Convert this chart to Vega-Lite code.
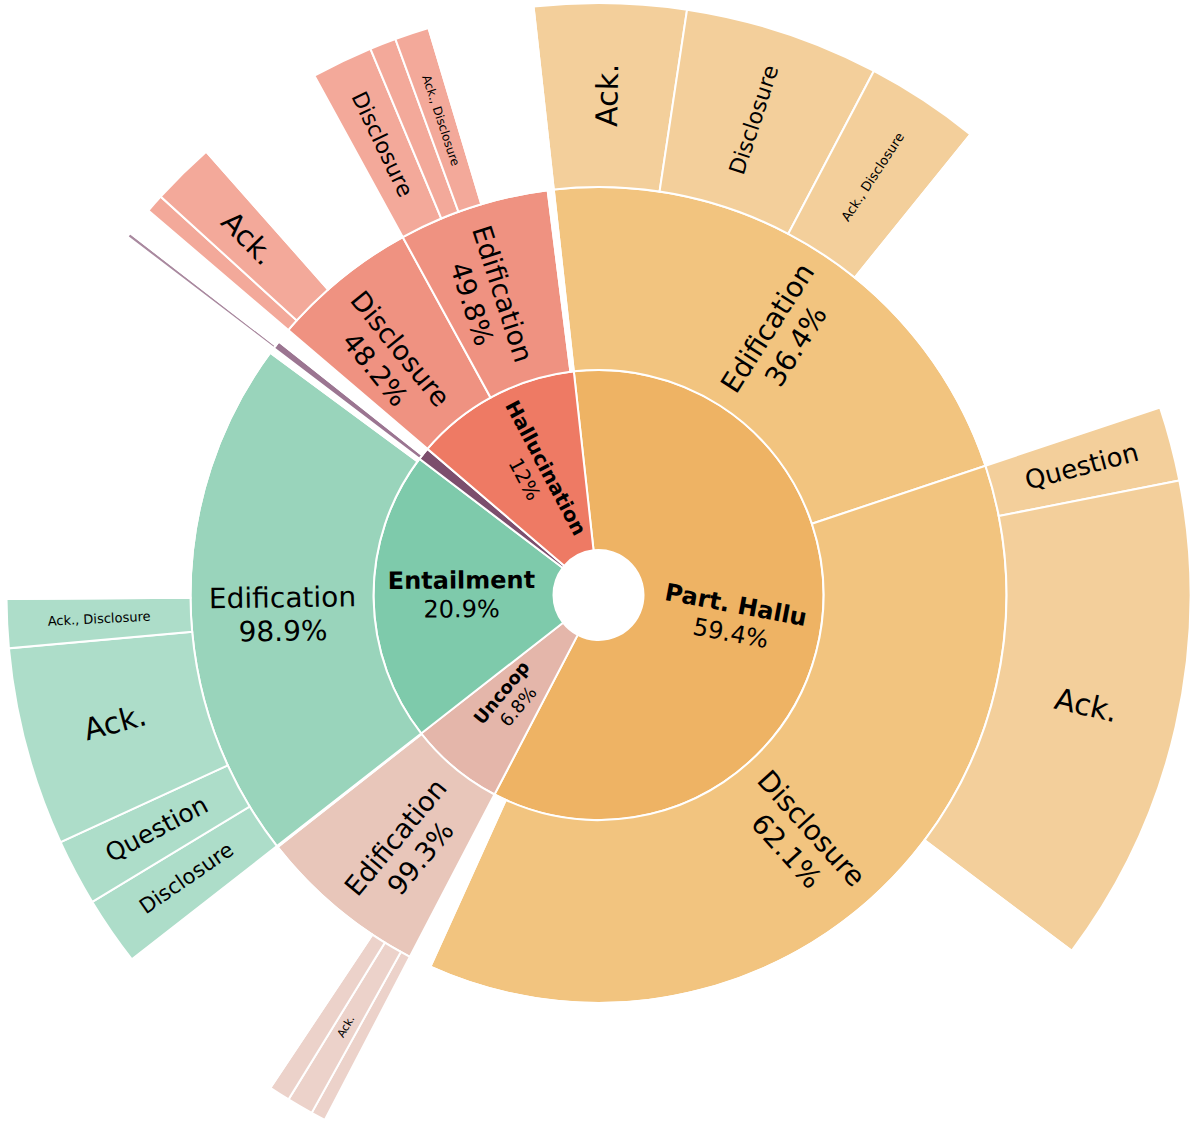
{
  "$schema": "https://vega.github.io/schema/vega-lite/v6.json",
  "width": 1197,
  "height": 1066,
  "padding": {"left": 0, "right": 0, "top": 62, "bottom": 0},
  "autosize": {"type": "none"},
  "background": "white",
  "config": {"view": {"stroke": null}},
  "data": {"values": [
    {"level": 1, "root": "Part. Hallu", "parent": "", "label": "Part. Hallu", "v": 59.4},
    {"level": 1, "root": "Uncoop", "parent": "", "label": "Uncoop", "v": 6.8},
    {"level": 1, "root": "Entailment", "parent": "", "label": "Entailment", "v": 20.9},
    {"level": 1, "root": "Other", "parent": "", "label": "", "v": 0.9},
    {"level": 1, "root": "Hallucination", "parent": "", "label": "Hallucination", "v": 12.0},

    {"level": 2, "root": "Part. Hallu", "parent": "Part. Hallu", "label": "Edification", "v": 21.62, "share": 0.364},
    {"level": 2, "root": "Part. Hallu", "parent": "Part. Hallu", "label": "Disclosure", "v": 36.89, "share": 0.621},
    {"level": 2, "root": "gap", "parent": "Part. Hallu", "label": "", "v": 0.89},
    {"level": 2, "root": "Uncoop", "parent": "Uncoop", "label": "Edification", "v": 6.752, "share": 0.993},
    {"level": 2, "root": "gap", "parent": "Uncoop", "label": "", "v": 0.048},
    {"level": 2, "root": "Entailment", "parent": "Entailment", "label": "Edification", "v": 20.67, "share": 0.989},
    {"level": 2, "root": "gap", "parent": "Entailment", "label": "", "v": 0.23},
    {"level": 2, "root": "Other", "parent": "Other", "label": "", "v": 0.32},
    {"level": 2, "root": "gap", "parent": "Other", "label": "", "v": 0.58},
    {"level": 2, "root": "Hallucination", "parent": "Hallucination", "label": "Disclosure", "v": 5.784, "share": 0.482},
    {"level": 2, "root": "Hallucination", "parent": "Hallucination", "label": "Edification", "v": 5.976, "share": 0.498},
    {"level": 2, "root": "gap", "parent": "Hallucination", "label": "", "v": 0.24},

    {"level": 3, "root": "Part. Hallu", "parent": "Edification", "label": "Ack.", "v": 4.14},
    {"level": 3, "root": "Part. Hallu", "parent": "Edification", "label": "Disclosure", "v": 5.31},
    {"level": 3, "root": "Part. Hallu", "parent": "Edification", "label": "Ack., Disclosure", "v": 3.11},
    {"level": 3, "root": "gap", "parent": "Edification", "label": "", "v": 9.06},
    {"level": 3, "root": "Part. Hallu", "parent": "Disclosure", "label": "Question", "v": 2.03},
    {"level": 3, "root": "Part. Hallu", "parent": "Disclosure", "label": "Ack.", "v": 13.36},
    {"level": 3, "root": "gap", "parent": "Disclosure", "label": "", "v": 21.5},
    {"level": 3, "root": "gap", "parent": "", "label": "", "v": 0.89},
    {"level": 3, "root": "Uncoop", "parent": "Edification", "label": "", "v": 0.4},
    {"level": 3, "root": "Uncoop", "parent": "Edification", "label": "Ack.", "v": 0.72},
    {"level": 3, "root": "Uncoop", "parent": "Edification", "label": "", "v": 0.58},
    {"level": 3, "root": "gap", "parent": "Edification", "label": "", "v": 5.052},
    {"level": 3, "root": "gap", "parent": "", "label": "", "v": 0.048},
    {"level": 3, "root": "Entailment", "parent": "Edification", "label": "Disclosure", "v": 1.875},
    {"level": 3, "root": "Entailment", "parent": "Edification", "label": "Question", "v": 1.82},
    {"level": 3, "root": "Entailment", "parent": "Edification", "label": "Ack.", "v": 5.42},
    {"level": 3, "root": "Entailment", "parent": "Edification", "label": "Ack., Disclosure", "v": 1.33},
    {"level": 3, "root": "gap", "parent": "Edification", "label": "", "v": 10.225},
    {"level": 3, "root": "gap", "parent": "", "label": "", "v": 0.23},
    {"level": 3, "root": "Other", "parent": "", "label": "", "v": 0.12},
    {"level": 3, "root": "gap", "parent": "", "label": "", "v": 0.2},
    {"level": 3, "root": "gap", "parent": "", "label": "", "v": 0.58},
    {"level": 3, "root": "Hallucination", "parent": "Disclosure", "label": "", "v": 0.5},
    {"level": 3, "root": "Hallucination", "parent": "Disclosure", "label": "Ack.", "v": 1.72},
    {"level": 3, "root": "gap", "parent": "Disclosure", "label": "", "v": 3.564},
    {"level": 3, "root": "Hallucination", "parent": "Edification", "label": "Disclosure", "v": 1.67},
    {"level": 3, "root": "Hallucination", "parent": "Edification", "label": "", "v": 0.72},
    {"level": 3, "root": "Hallucination", "parent": "Edification", "label": "Ack., Disclosure", "v": 0.94},
    {"level": 3, "root": "gap", "parent": "Edification", "label": "", "v": 2.646},
    {"level": 3, "root": "gap", "parent": "", "label": "", "v": 0.24}
  ]},
  "transform": [{"window": [{"op": "row_number", "as": "rn"}]}],
  "layer": [
    {
      "transform": [{"filter": "datum.level == 1"}],
      "mark": {"type": "arc", "radius": 225, "radius2": 45, "stroke": "white", "strokeWidth": 2},
      "encoding": {
        "theta": {"field": "v", "type": "quantitative", "stack": true, "scale": {"domain": [0, 100], "range": [-0.10996, 6.17323]}},
        "order": {"field": "rn", "type": "quantitative"},
        "color": {"field": "root", "type": "nominal", "legend": null,
          "scale": {"domain": ["Part. Hallu", "Uncoop", "Entailment", "Other", "Hallucination", "gap"],
                    "range": ["#EEB364", "#E4B6AA", "#7ECAAB", "#7C4E6D", "#EE7A64", "rgba(0,0,0,0)"]}}
      }
    },
    {
      "transform": [{"filter": "datum.level == 2"}],
      "mark": {"type": "arc", "radius": 408, "radius2": 225, "stroke": "white", "strokeWidth": 2},
      "encoding": {
        "theta": {"field": "v", "type": "quantitative", "stack": true, "scale": {"domain": [0, 100], "range": [-0.10996, 6.17323]}},
        "order": {"field": "rn", "type": "quantitative"},
        "color": {"field": "root", "type": "nominal", "legend": null,
          "scale": {"domain": ["Part. Hallu", "Uncoop", "Entailment", "Other", "Hallucination", "gap"],
                    "range": ["#F2C47F", "#E8C6BA", "#99D4BB", "#9B7591", "#EF9281", "rgba(0,0,0,0)"]}}
      }
    },
    {
      "transform": [{"filter": "datum.level == 3"}],
      "mark": {"type": "arc", "radius": 592, "radius2": 408, "stroke": "white", "strokeWidth": 2},
      "encoding": {
        "theta": {"field": "v", "type": "quantitative", "stack": true, "scale": {"domain": [0, 100], "range": [-0.10996, 6.17323]}},
        "order": {"field": "rn", "type": "quantitative"},
        "color": {"field": "root", "type": "nominal", "legend": null,
          "scale": {"domain": ["Part. Hallu", "Uncoop", "Entailment", "Other", "Hallucination", "gap"],
                    "range": ["#F3CF9B", "#ECD2CA", "#ADDDC9", "#A9899F", "#F3A99A", "rgba(0,0,0,0)"]}}
      }
    },
    {
      "transform": [{"filter": "datum.level == 1"}],
      "mark": {"type": "text", "radius": 137, "font": "DejaVu Sans", "fontWeight": "bold", "align": "center", "baseline": "middle", "color": "black",
        "fontSize": {"expr": "datum.root == 'Hallucination' ? 20 : datum.root == 'Uncoop' ? 18 : 24"},
        "dy": {"expr": "-0.6 * (datum.root == 'Hallucination' ? 20 : datum.root == 'Uncoop' ? 18 : 24)"},
        "angle": {"expr": "(((datum.v_start + datum.v_end) * 1.8 + 353.7) % 360) < 180 ? (((datum.v_start + datum.v_end) * 1.8 + 353.7) % 360) - 90 : (((datum.v_start + datum.v_end) * 1.8 + 353.7) % 360) - 270"},
        "text": {"expr": "datum.label"}},
      "encoding": {
        "theta": {"field": "v", "type": "quantitative", "stack": true, "scale": {"domain": [0, 100], "range": [-0.10996, 6.17323]}},
        "order": {"field": "rn", "type": "quantitative"}
      }
    },
    {
      "transform": [{"filter": "datum.level == 1"}],
      "mark": {"type": "text", "radius": 137, "font": "DejaVu Sans", "align": "center", "baseline": "middle", "color": "black",
        "fontSize": {"expr": "datum.root == 'Hallucination' ? 20 : datum.root == 'Uncoop' ? 18 : 24"},
        "dy": {"expr": "0.6 * (datum.root == 'Hallucination' ? 20 : datum.root == 'Uncoop' ? 18 : 24)"},
        "angle": {"expr": "(((datum.v_start + datum.v_end) * 1.8 + 353.7) % 360) < 180 ? (((datum.v_start + datum.v_end) * 1.8 + 353.7) % 360) - 90 : (((datum.v_start + datum.v_end) * 1.8 + 353.7) % 360) - 270"},
        "text": {"expr": "datum.label ? format(datum.v / 100, '.3~p') : ''"}},
      "encoding": {
        "theta": {"field": "v", "type": "quantitative", "stack": true, "scale": {"domain": [0, 100], "range": [-0.10996, 6.17323]}},
        "order": {"field": "rn", "type": "quantitative"}
      }
    },
    {
      "transform": [{"filter": "datum.level == 2"}],
      "mark": {"type": "text", "radius": 316, "font": "DejaVu Sans", "align": "center", "baseline": "middle", "color": "black",
        "fontSize": {"expr": "datum.root == 'Part. Hallu' ? 28 : datum.root == 'Entailment' ? 28 : 27"},
        "lineHeight": {"expr": "1.2 * (datum.root == 'Part. Hallu' ? 28 : datum.root == 'Entailment' ? 28 : 27)"},
        "angle": {"expr": "(((datum.v_start + datum.v_end) * 1.8 + 353.7) % 360) < 180 ? (((datum.v_start + datum.v_end) * 1.8 + 353.7) % 360) - 90 : (((datum.v_start + datum.v_end) * 1.8 + 353.7) % 360) - 270"},
        "text": {"expr": "datum.label ? [datum.label, format(datum.share, '.3~p')] : ''"}},
      "encoding": {
        "theta": {"field": "v", "type": "quantitative", "stack": true, "scale": {"domain": [0, 100], "range": [-0.10996, 6.17323]}},
        "order": {"field": "rn", "type": "quantitative"}
      }
    },
    {
      "transform": [{"filter": "datum.level == 3"}],
      "mark": {"type": "text", "radius": 500, "font": "DejaVu Sans", "align": "center", "baseline": "middle", "color": "black",
        "fontSize": {"expr": "datum.label == 'Ack., Disclosure' ? (datum.root == 'Hallucination' ? 12 : 13) : datum.label == 'Ack.' ? (datum.root == 'Uncoop' ? 11 : datum.root == 'Hallucination' ? 29 : 30) : datum.label == 'Question' ? (datum.root == 'Entailment' ? 25 : 26) : datum.label == 'Disclosure' ? (datum.root == 'Entailment' ? 21 : 22) : 20"},
        "angle": {"expr": "(((datum.v_start + datum.v_end) * 1.8 + 353.7) % 360) < 180 ? (((datum.v_start + datum.v_end) * 1.8 + 353.7) % 360) - 90 : (((datum.v_start + datum.v_end) * 1.8 + 353.7) % 360) - 270"},
        "text": {"expr": "datum.label"}},
      "encoding": {
        "theta": {"field": "v", "type": "quantitative", "stack": true, "scale": {"domain": [0, 100], "range": [-0.10996, 6.17323]}},
        "order": {"field": "rn", "type": "quantitative"}
      }
    }
  ],
  "resolve": {"scale": {"color": "independent"}}
}
